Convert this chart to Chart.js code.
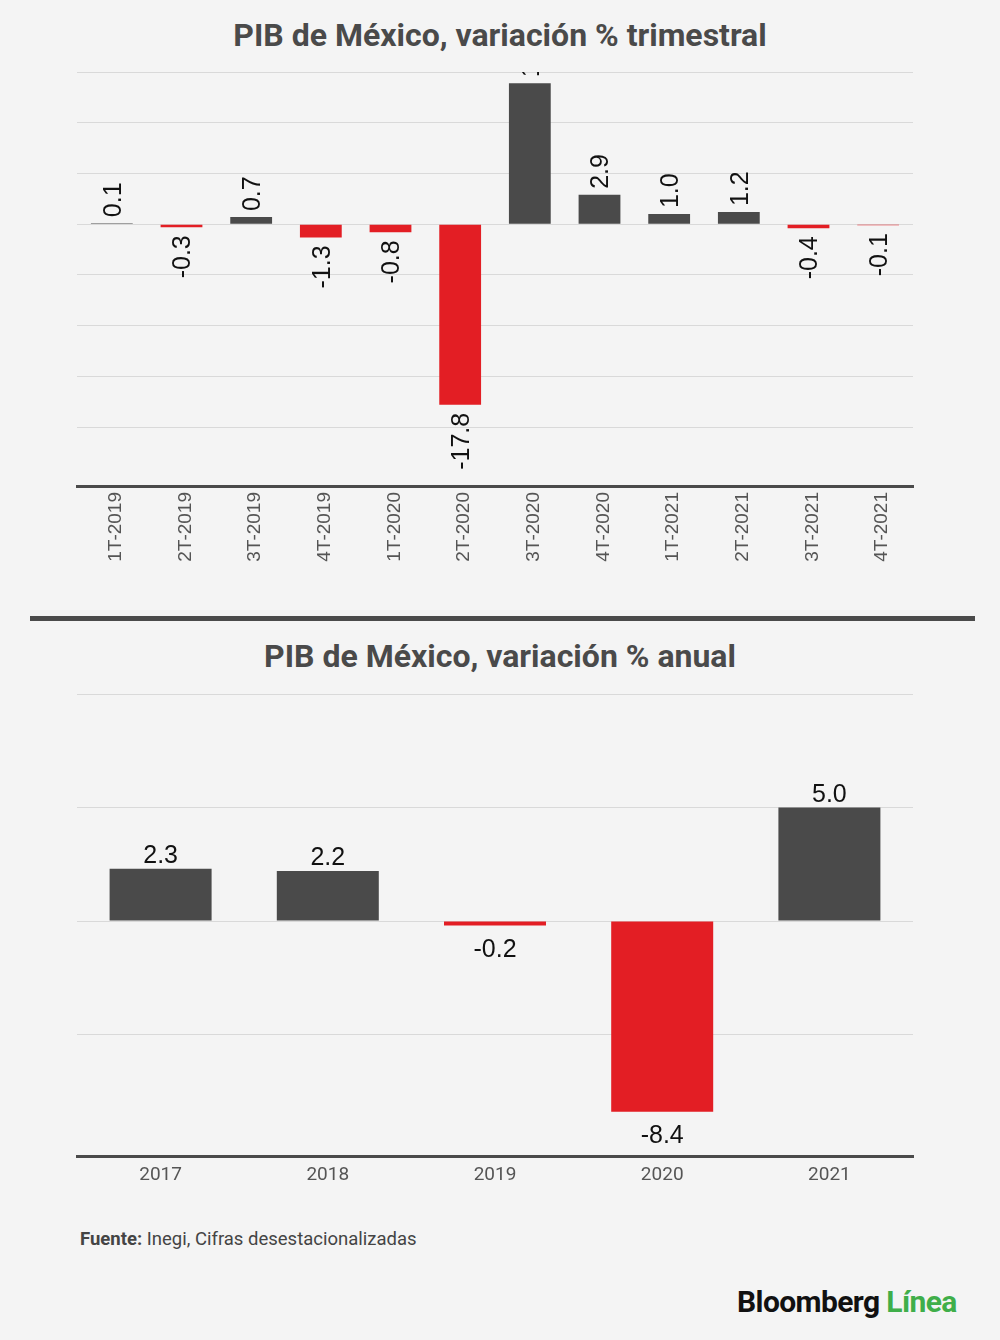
<!DOCTYPE html>
<html lang="es">
<head>
<meta charset="utf-8">
<script src="https://cdn.jsdelivr.net/npm/chart.js@4/dist/chart.umd.min.js"></script>
<style>
  body { margin: 0; background: #f4f4f4; width: 1000px; height: 1340px; position: relative; overflow: hidden; font-family: Roboto, sans-serif; }
  .titulo { position: absolute; left: 0; width: 1000px; text-align: center; font: bold 32px Roboto, sans-serif; color: #4a4a4a; }
  canvas { position: absolute; left: 0; }
  #divisor { position: absolute; left: 30px; top: 616px; width: 945px; height: 5px; background: #4a4a4a; }
  #fuente { position: absolute; left: 80px; top: 1228px; font: 18.5px Roboto, sans-serif; color: #444; }
  #logo { position: absolute; left: 737px; top: 1284px; font: bold 30px Roboto, sans-serif; letter-spacing: -0.6px; color: #111; }
  #logo span { color: #3fae49; }
</style>
</head>
<body>
<div class="titulo" style="top:16px">PIB de México, variación % trimestral</div>
<canvas id="graficoTrimestral" width="1000" height="540" style="top:60px"></canvas>
<div id="divisor"></div>
<div class="titulo" style="top:637px">PIB de México, variación % anual</div>
<canvas id="graficoAnual" width="1000" height="520" style="top:680px"></canvas>
<div id="fuente"><b>Fuente:</b> Inegi, Cifras desestacionalizadas</div>
<div id="logo">Bloomberg <span>Línea</span></div>

<script>
const trimestres = ['1T-2019', '2T-2019', '3T-2019', '4T-2019', '1T-2020', '2T-2020',
                    '3T-2020', '4T-2020', '1T-2021', '2T-2021', '3T-2021', '4T-2021'];
const variacionTrimestral = [0.1, -0.3, 0.7, -1.3, -0.8, -17.8, 13.9, 2.9, 1.0, 1.2, -0.4, -0.1];

const anios = ['2017', '2018', '2019', '2020', '2021'];
const variacionAnual = [2.3, 2.2, -0.2, -8.4, 5.0];

const GRIS = '#4a4a4a';
const ROJO = '#e31e24';

function colores(valores) {
    return valores.map((v) => (v < 0 ? ROJO : GRIS));
}

// etiquetas de valor sobre/bajo cada barra
const etiquetasPlugin = {
    id: 'etiquetas',
    afterDatasetsDraw(chart, args, opts) {
        const ctx = chart.ctx;
        const area = chart.chartArea;
        const valores = chart.data.datasets[0].data;
        ctx.save();
        ctx.beginPath();
        ctx.rect(area.left, area.top, area.right - area.left, area.bottom - area.top);
        ctx.clip();
        ctx.fillStyle = '#111';
        ctx.font = opts.font;
        chart.getDatasetMeta(0).data.forEach((barra, i) => {
            const v = valores[i];
            const texto = v.toFixed(1);
            if (opts.rotado) {
                ctx.save();
                ctx.textBaseline = 'middle';
                if (v >= 0) {
                    ctx.translate(barra.x + 2, barra.y - 6);
                    ctx.rotate(-Math.PI / 2);
                    ctx.textAlign = 'left';
                } else {
                    ctx.translate(barra.x + 2, barra.y + 8);
                    ctx.rotate(-Math.PI / 2);
                    ctx.textAlign = 'right';
                }
                ctx.fillText(texto, 0, 0);
                ctx.restore();
            } else {
                ctx.textAlign = 'center';
                ctx.textBaseline = 'alphabetic';
                if (v >= 0) {
                    ctx.fillText(texto, barra.x, barra.y - 6);
                } else {
                    ctx.fillText(texto, barra.x, barra.y + 31);
                }
            }
        });
        ctx.restore();
    }
};

function crearGrafico(canvasID, etiquetas, valores, cfg) {
    return new Chart(document.getElementById(canvasID), {
        type: 'bar',
        plugins: [etiquetasPlugin],
        data: {
            labels: etiquetas,
            datasets: [{
                data: valores,
                backgroundColor: colores(valores),
                barPercentage: cfg.ancho,
                categoryPercentage: 1.0,
            }]
        },
        options: {
            responsive: false,
            animation: false,
            layout: { padding: { left: 77, right: 87, top: cfg.arriba, bottom: 0 } },
            plugins: {
                legend: { display: false },
                tooltip: { enabled: false },
                etiquetas: { font: '25px "Liberation Sans", Arial, sans-serif', rotado: cfg.rotado }
            },
            scales: {
                x: {
                    grid: { display: false, drawTicks: false },
                    border: { color: GRIS, width: 3 },
                    ticks: {
                        color: '#555',
                        font: cfg.fuenteEjeX,
                        autoSkip: false,
                        minRotation: cfg.rotado ? 90 : 0,
                        maxRotation: cfg.rotado ? 90 : 0,
                        padding: cfg.rellenoEjeX,
                        labelOffset: cfg.rotado ? 4 : 0,
                    },
                    afterFit: (s) => { s.height = cfg.altoEjeX; }
                },
                y: {
                    min: cfg.min,
                    max: cfg.max,
                    grid: { color: '#d9d9d9', lineWidth: 1, drawTicks: false },
                    border: { display: false },
                    ticks: { display: false, stepSize: 5 },
                    afterBuildTicks: (s) => { s.ticks = s.ticks.filter((t) => t.value % 5 === 0); },
                    afterFit: (s) => { s.width = 0; }
                }
            }
        }
    });
}

crearGrafico('graficoTrimestral', trimestres, variacionTrimestral, {
    ancho: 0.6, arriba: 12, altoEjeX: 114, min: -25.8, max: 15, rotado: true, rellenoEjeX: 6,
    fuenteEjeX: { family: '"Liberation Sans", Arial, sans-serif', size: 19 }
});

crearGrafico('graficoAnual', anios, variacionAnual, {
    ancho: 0.61, arriba: 14, altoEjeX: 44, min: -10.35, max: 10, rotado: false, rellenoEjeX: 8,
    fuenteEjeX: { family: 'Roboto, sans-serif', size: 19 }
});
</script>
</body>
</html>
